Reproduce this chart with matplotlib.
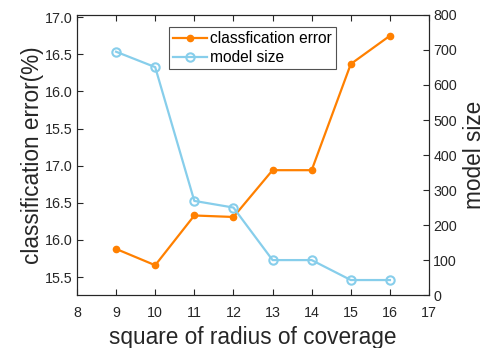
import matplotlib
matplotlib.use("Agg")
import matplotlib.pyplot as plt

plt.rcParams['font.family'] = ['Liberation Sans', 'DejaVu Sans']

# data
radius_sq = [9, 10, 11, 12, 13, 14, 15, 16]
class_error = [15.88, 15.66, 16.33, 16.31, 16.94, 16.94, 18.37, 18.75]
model_size = [695, 651, 269, 250, 100, 100, 43, 43]

left_ticks = [15.5, 16.0, 16.5, 17.0, 17.5, 18.0, 18.5, 19.0]
left_labels = ['15.5', '16.0', '16.5', '17.0', '15.5', '16.0', '16.5', '17.0']
x_ticks = [8, 9, 10, 11, 12, 13, 14, 15, 16, 17]
right_ticks = [0, 100, 200, 300, 400, 500, 600, 700, 800]

orange = '#FF8000'
blue = '#87CEEB'
txt = '#262626'

fig = plt.figure(figsize=(4.87, 3.48), dpi=100)
ax = fig.add_axes([0.158, 0.152, 0.723, 0.805])
ax2 = ax.twinx()

l1, = ax.plot(radius_sq, class_error, color=orange, lw=1.6, marker='o',
              ms=4.5, label='classfication error')
l2, = ax2.plot(radius_sq, model_size, color=blue, lw=1.6, marker='o', ms=6,
               mfc='none', mew=1.5, label='model size')

ax.set_xlim(8, 17)
ax.set_ylim(15.258, 19.03)
ax2.set_ylim(0, 800)
ax.set_xticks(x_ticks)
ax.set_yticks(left_ticks)
ax.set_yticklabels(left_labels)
ax2.set_yticks(right_ticks)

for a in (ax, ax2):
    a.tick_params(direction='in', length=4, width=0.8, labelsize=10.3,
                  colors=txt, labelcolor=txt)
    for s in a.spines.values():
        s.set_color(txt)
        s.set_linewidth(0.8)
ax.tick_params(axis='x', top=True, pad=8)
ax.tick_params(axis='y', pad=3)
ax2.tick_params(axis='y', pad=3)

ax.set_xlabel('square of radius of coverage', fontsize=16.3, color=txt,
              labelpad=4)
ax.set_ylabel('classification error(%)', fontsize=16.3, color=txt, labelpad=1)
ax2.set_ylabel('model size', fontsize=16.3, color=txt, labelpad=4)

leg = ax2.legend(handles=[l1, l2], loc='upper left',
                 bbox_to_anchor=(0.261, 0.956), fontsize=11.2, frameon=True,
                 fancybox=False, borderpad=0.25, handlelength=2.2,
                 handletextpad=0.2, labelspacing=0.25, borderaxespad=0)
leg.get_frame().set_edgecolor(txt)
leg.get_frame().set_linewidth(0.8)

fig.savefig('out.png', dpi=100)
